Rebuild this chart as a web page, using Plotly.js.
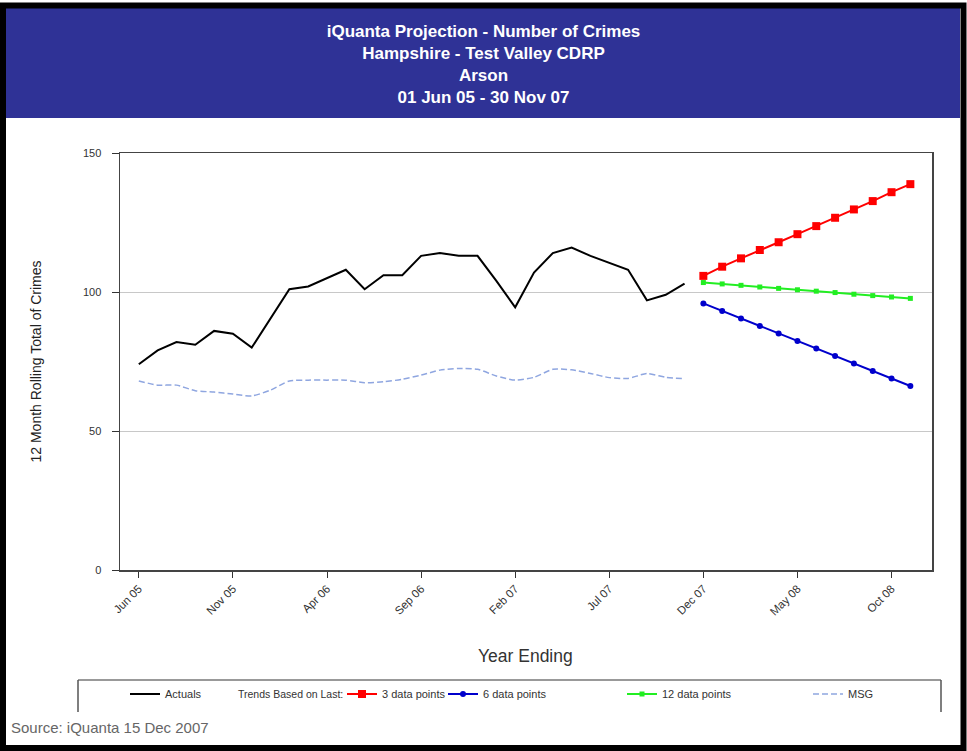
<!DOCTYPE html>
<html><head><meta charset="utf-8">
<script src="https://cdn.plot.ly/plotly-3.0.1.min.js"></script>
<style>html,body{margin:0;padding:0;background:#fff}#chart{width:967px;height:751px}</style>
</head><body><div id="chart"></div>
<script>
const months = ["Jun 05","Jul 05","Aug 05","Sep 05","Oct 05","Nov 05","Dec 05",
  "Jan 06","Feb 06","Mar 06","Apr 06","May 06","Jun 06","Jul 06","Aug 06","Sep 06","Oct 06","Nov 06","Dec 06",
  "Jan 07","Feb 07","Mar 07","Apr 07","May 07","Jun 07","Jul 07","Aug 07","Sep 07","Oct 07","Nov 07","Dec 07",
  "Jan 08","Feb 08","Mar 08","Apr 08","May 08","Jun 08","Jul 08","Aug 08","Sep 08","Oct 08","Nov 08"];
const actualMonths = months.slice(0, 30);
const projMonths = months.slice(30, 42);
const actuals = [74,79,82,81,86,85,80,90.5,101,102,105,108,101,106,106,113,114,113,113,104,94.5,107,114,116,113,110.5,108,97,99,103];
const msg = [68,66.5,66.5,64.5,64,63.3,62.6,64.7,68,68.3,68.3,68.3,67.4,67.7,68.6,70.1,71.9,72.5,72.2,69.8,68.3,69.3,72.2,72,70.7,69.2,68.9,70.7,69.3,68.8];
const trend3 = [105.8,109.1,112.1,115.1,117.9,120.8,123.7,126.7,129.7,132.7,135.9,138.8];
const trend6 = [95.9,93.2,90.5,87.8,85.1,82.4,79.7,77.0,74.3,71.6,68.9,66.2];
const trend12 = [103.4,102.9,102.4,101.8,101.3,100.8,100.3,99.8,99.2,98.7,98.2,97.7];
const xTicks = ["Jun 05","Nov 05","Apr 06","Sep 06","Feb 07","Jul 07","Dec 07","May 08","Oct 08"];
const yTicks = [0,50,100,150];

const W = 967, H = 751, L = 120, R = 932, T = 153, B = 570;
const px = v => (v - L) / (R - L);
const py = v => (B - v) / (B - T);
const cx = v => v / W;
const cy = v => 1 - v / H;
const FONT = "Liberation Sans, Arial, sans-serif";

const traces = [
  {x: actualMonths, y: actuals, name: "Actuals", mode: "lines", legend: "legend",
   line: {color: "#000000", width: 2}},
  {x: projMonths, y: trend3, name: "3 data points", mode: "lines+markers", legend: "legend2",
   line: {color: "#ff0000", width: 2}, marker: {symbol: "square", size: 8, color: "#ff0000"}},
  {x: projMonths, y: trend6, name: "6 data points", mode: "lines+markers", legend: "legend3",
   line: {color: "#0000cc", width: 2}, marker: {symbol: "circle", size: 6, color: "#0000cc"}},
  {x: projMonths, y: trend12, name: "12 data points", mode: "lines+markers", legend: "legend4",
   line: {color: "#22ee22", width: 2}, marker: {symbol: "square", size: 5, color: "#22ee22"}},
  {x: actualMonths, y: msg, name: "MSG", mode: "lines", legend: "legend5",
   line: {color: "#8fa6e0", width: 1.5, dash: "6px,3px", shape: "spline", smoothing: 0.6}}
];

function leg(textStart) {
  return {x: cx(textStart - 40), xref: "container", xanchor: "left",
          y: cy(694), yref: "container", yanchor: "middle",
          orientation: "h", bgcolor: "rgba(0,0,0,0)", borderwidth: 0,
          font: {family: FONT, size: 11, color: "#333"}};
}

const layout = {
  width: W, height: H,
  margin: {l: L, r: W - R, t: T, b: H - B, pad: 0},
  paper_bgcolor: "#ffffff", plot_bgcolor: "#ffffff",
  font: {family: FONT, color: "#333"},
  title: {text: "iQuanta Projection - Number of Crimes<br>Hampshire - Test Valley CDRP<br>Arson<br>01 Jun 05 - 30 Nov 07",
          font: {family: FONT, size: 17, color: "#ffffff", weight: "bold"},
          x: 0.5, xref: "container", xanchor: "center",
          y: cy(37), yref: "container", yanchor: "top"},
  xaxis: {type: "category", categoryorder: "array", categoryarray: months,
          range: [-1, 42.15], tickmode: "array", tickvals: xTicks, ticktext: xTicks,
          tickangle: -45, ticks: "outside", ticklen: 6, tickcolor: "#333", tickwidth: 1,
          tickfont: {family: FONT, size: 11.5, color: "#333"},
          showgrid: false, zeroline: false, showline: true, linecolor: "#444", linewidth: 1.5,
          mirror: true, automargin: false, fixedrange: true},
  yaxis: {range: [0, 150], tickmode: "array", tickvals: yTicks,
          ticks: "outside", ticklen: 7, tickcolor: "#333", tickwidth: 1, ticklabelstandoff: 8,
          tickfont: {family: FONT, size: 11, color: "#333"},
          showgrid: true, gridcolor: "#c8c8c8", gridwidth: 1, zeroline: false,
          showline: true, linecolor: "#444", linewidth: 1.5, mirror: true,
          automargin: false, fixedrange: true,
          title: {text: "12 Month Rolling Total of Crimes", standoff: 38,
                  font: {family: FONT, size: 14, color: "#222"}}},
  showlegend: true,
  legend: leg(165), legend2: leg(382), legend3: leg(483), legend4: leg(662), legend5: leg(848),
  shapes: [
    {type: "rect", xref: "paper", yref: "paper", x0: px(6), x1: px(960), y0: py(8), y1: py(118),
     fillcolor: "#2f3296", line: {width: 0}, layer: "below"},
    {type: "rect", xref: "paper", yref: "paper", x0: px(3), x1: px(963.5), y0: py(5.5), y1: py(748),
     fillcolor: "rgba(0,0,0,0)", line: {color: "#000", width: 6}, layer: "above"},
    {type: "line", xref: "paper", yref: "paper", x0: px(78), x1: px(941), y0: py(680), y1: py(680),
     line: {color: "#777", width: 1.5}},
    {type: "line", xref: "paper", yref: "paper", x0: px(78), x1: px(78), y0: py(680), y1: py(712),
     line: {color: "#555", width: 1.5}},
    {type: "line", xref: "paper", yref: "paper", x0: px(941), x1: px(941), y0: py(680), y1: py(712),
     line: {color: "#555", width: 1.5}}
  ],
  annotations: [
    {text: "Year Ending", xref: "paper", yref: "paper", x: px(525), y: py(656),
     xanchor: "center", yanchor: "middle", showarrow: false,
     font: {family: FONT, size: 17.5, color: "#333"}},
    {text: "Trends Based on Last:", xref: "paper", yref: "paper", x: px(236), y: py(694),
     xanchor: "left", yanchor: "middle", showarrow: false,
     font: {family: FONT, size: 10.5, color: "#333"}},
    {text: "Source: iQuanta 15 Dec 2007", xref: "paper", yref: "paper", x: px(9), y: py(727),
     xanchor: "left", yanchor: "middle", showarrow: false,
     font: {family: FONT, size: 15, color: "#666"}}
  ]
};

Plotly.newPlot("chart", traces, layout, {displayModeBar: false, staticPlot: true});
</script></body></html>
